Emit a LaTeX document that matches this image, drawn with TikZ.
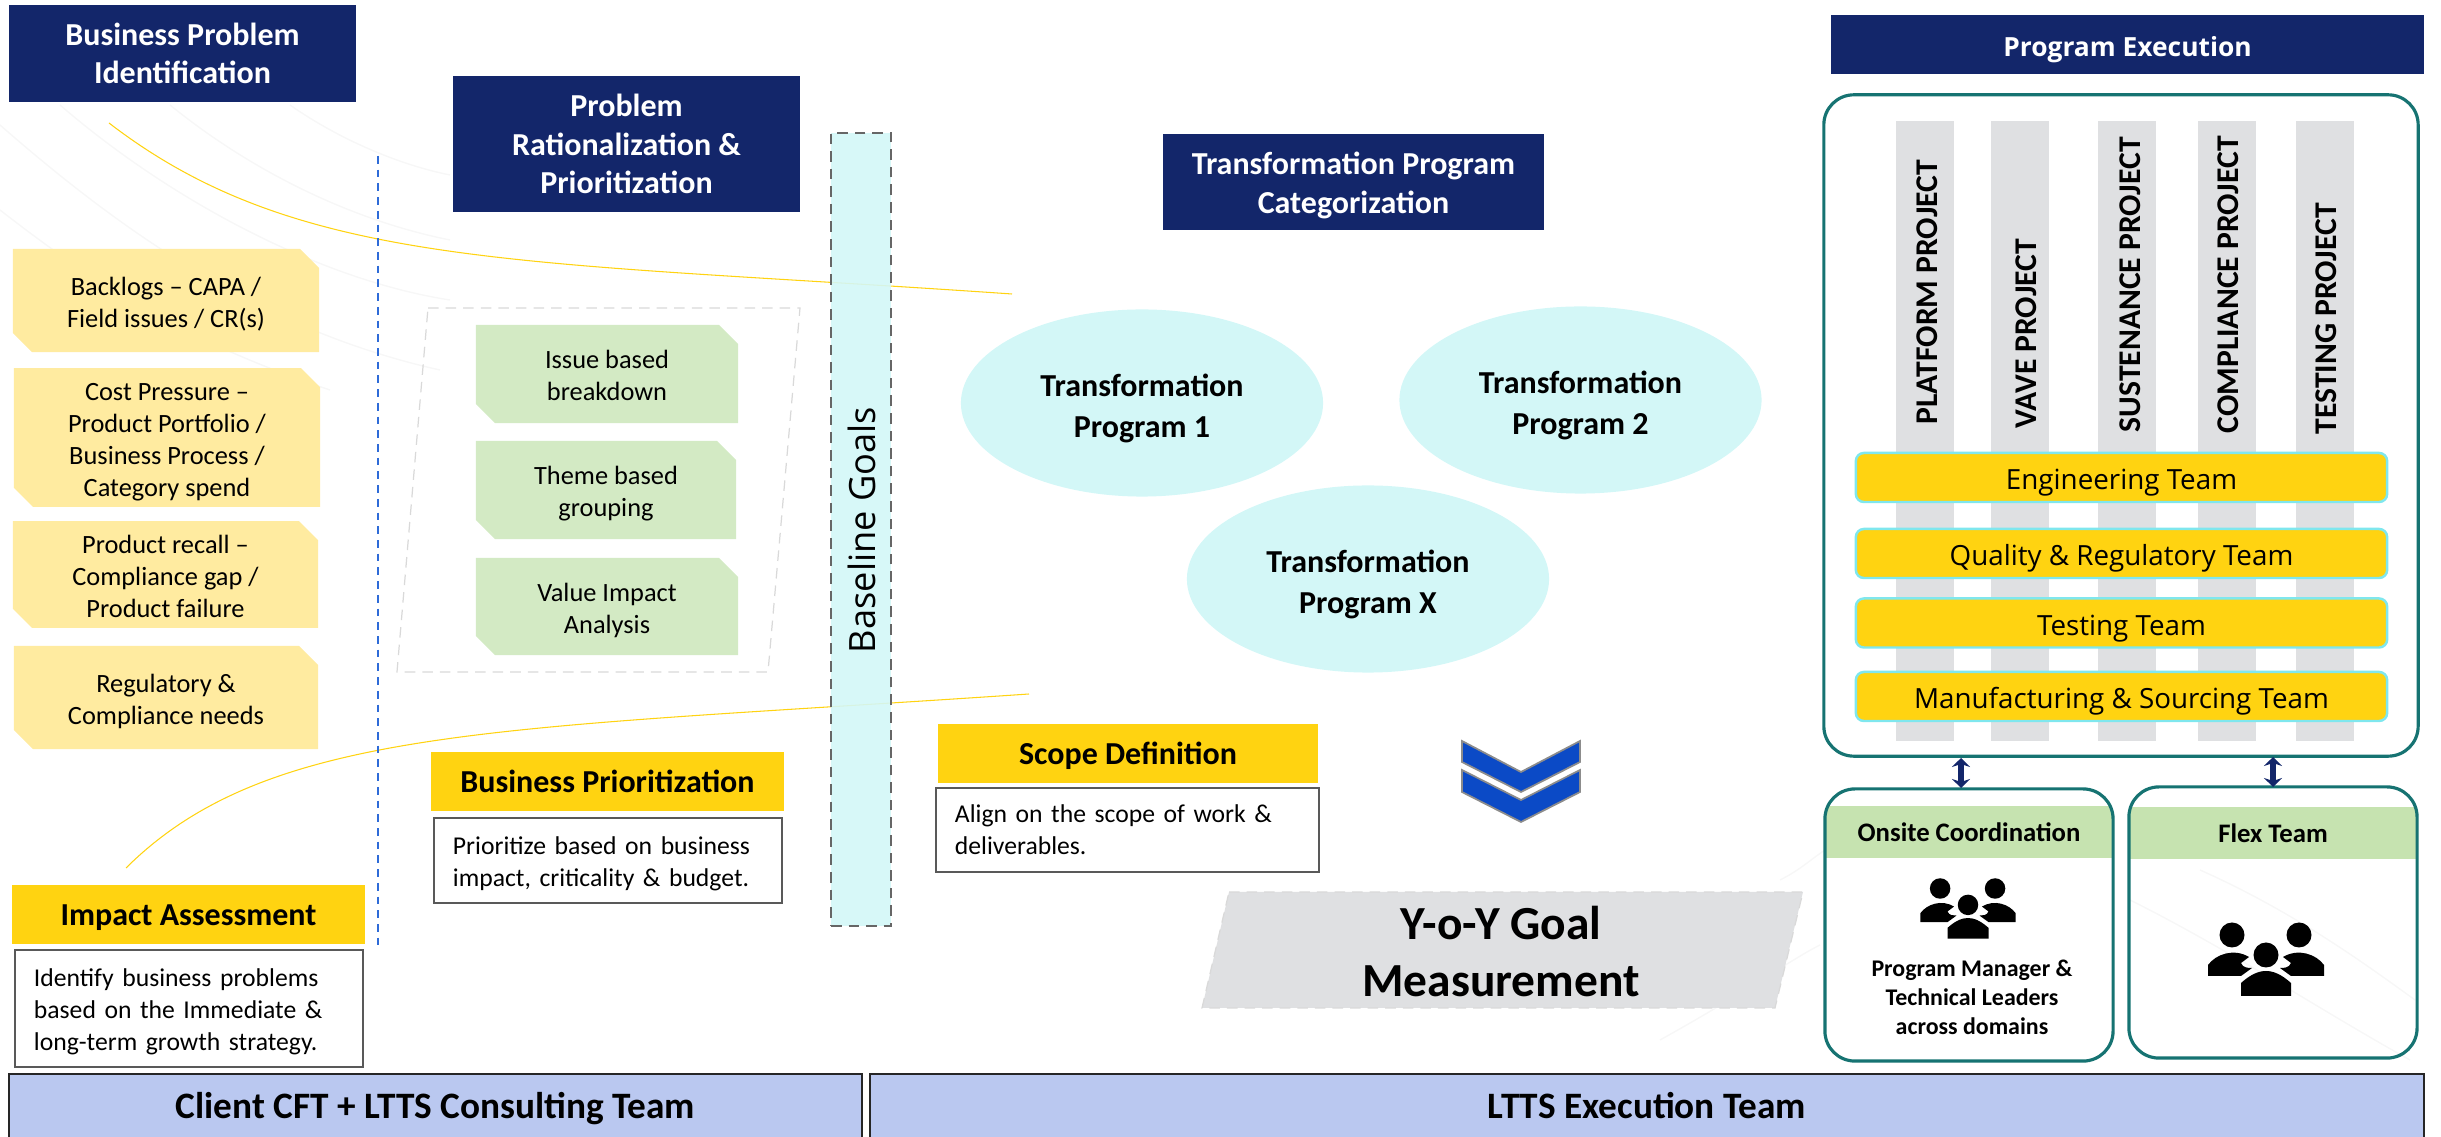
\documentclass[tikz,border=0pt]{standalone}
\usepackage{fontspec}
\setmainfont{Carlito}
\newfontfamily\opensans{Open Sans}
\usetikzlibrary{shapes.geometric,shapes.misc,arrows.meta}

\definecolor{navyhead}{HTML}{13266A}
\definecolor{goldhead}{HTML}{FFD311}
\definecolor{notefill}{HTML}{FFEBA0}
\definecolor{greenfill}{HTML}{D3EAC4}
\definecolor{headgreen}{HTML}{C6E3B0}
\definecolor{aquafill}{HTML}{D3F7F7}
\definecolor{greyfill}{HTML}{DFE0E2}
\definecolor{tealline}{HTML}{167372}
\definecolor{barfill}{HTML}{BAC8F0}
\definecolor{chevfill}{HTML}{0B4AC6}
\definecolor{sepblue}{HTML}{2E6BD8}
\definecolor{barline}{HTML}{7FE7EE}

\tikzset{
	navytitle/.style={rectangle, fill=navyhead, text=white, align=center, inner sep=0, font=\fontsize{9.1}{10.9}\selectfont\bfseries},
	goldlabel/.style={rectangle, fill=goldhead, text=black, inner sep=0, text height=0.75em, text depth=0.15em, font=\fontsize{9.1}{10}\selectfont\bfseries},
	descbox/.style={rectangle, draw=black!65, line width=0.4pt, align=left, font=\fontsize{7.3}{9.1}\selectfont},
	snipnote/.style={chamfered rectangle, chamfered rectangle corners={north east,south west}, chamfered rectangle xsep=0.09cm, chamfered rectangle ysep=0.1cm, inner sep=0, align=center, font=\fontsize{7.5}{9.1}\selectfont},
	yellownote/.style={snipnote, fill=notefill},
	greennote/.style={snipnote, fill=greenfill},
	programblob/.style={ellipse, fill=aquafill, inner sep=0, minimum width=3.62cm, minimum height=1.87cm, align=center, font=\fontsize{9.1}{11.6}\selectfont\bfseries},
	projcol/.style={rectangle, fill=greyfill, inner sep=0, minimum width=0.58cm, minimum height=6.2cm},
	projlabel/.style={rotate=90, anchor=west, inner sep=0, font=\fontsize{9}{10}\selectfont\bfseries},
	teambar/.style={rectangle, rounded corners=0.08cm, draw=barline, line width=0.7pt, fill=goldhead, inner sep=0, minimum width=5.31cm, minimum height=0.49cm, text height=0.82em, text depth=0.12em, font=\opensans\fontsize{7.9}{9}\selectfont},
	tealbox/.style={rectangle, rounded corners=0.3cm, draw=tealline, line width=0.9pt, inner sep=0},
	greenhead/.style={rectangle, fill=headgreen, inner sep=0, font=\fontsize{7.6}{8}\selectfont\bfseries},
	teambase/.style={rectangle, draw=black!85, line width=0.6pt, fill=barfill, inner sep=0, text height=0.8em, text depth=0.11em, font=\fontsize{10.6}{12}\selectfont\bfseries},
	flowcurve/.style={draw=goldhead, line width=0.3pt},
	bgwave/.style={draw=black!3, line width=0.4pt},
	syncarrow/.style={{Stealth[length=0.09cm,width=0.18cm]}-{Stealth[length=0.09cm,width=0.18cm]}, draw=navyhead, line width=1.7pt},
	people/.pic={
		% back row
		\fill (-34,-25) circle [radius=12.5];
		\fill (33,-25) circle [radius=12.5];
		\fill (-58,16) -- (-58,5) .. controls (-50,-6) and (-32,-12) .. (-17,-3) -- (-25,3) .. controls (-23,8) and (-18,8) .. (-14,8) -- (-25,16) -- cycle;
		\fill (58,16) -- (58,5) .. controls (50,-6) and (32,-12) .. (17,-3) -- (25,3) .. controls (23,8) and (18,8) .. (14,8) -- (25,16) -- cycle;
		% front
		\fill (0,-5) circle [radius=12.5];
		\fill (-25,36) -- (-25,23) .. controls (-15,14) and (-7,11) .. (0,11) .. controls (7,11) and (15,14) .. (25,23) -- (25,36) -- cycle;
	},
}

\begin{document}
\begin{tikzpicture}[x=0.01cm, y=-0.01cm]
	\useasboundingbox (0,0) rectangle (2441,1137);

	% faint waves behind everything
	\draw[bgwave] (0,125) .. controls (120,230) and (260,330) .. (440,370);
	\draw[bgwave] (60,105) .. controls (170,200) and (320,280) .. (450,300);
	\draw[bgwave] (170,105) .. controls (250,170) and (350,220) .. (450,240);
	\draw[bgwave] (0,210) .. controls (90,280) and (180,340) .. (330,390);
	\draw[bgwave] (290,105) .. controls (340,140) and (400,165) .. (450,175);
	\draw[bgwave] (1660,1040) .. controls (1750,990) and (1790,960) .. (1820,945);
	\draw[bgwave] (1780,880) .. controls (1800,870) and (1810,860) .. (1825,850);
	\draw[bgwave] (2130,900) .. controls (2230,950) and (2320,1010) .. (2410,1060);
	\draw[bgwave] (2200,870) .. controls (2290,910) and (2360,960) .. (2415,1000);

	% yellow flow curves
	\coordinate (curveAs) at (109,123);
	\coordinate (curveAe) at (1012,294);
	\coordinate (curveBs) at (126,868);
	\coordinate (curveBe) at (1029,694);
	\draw[flowcurve] (curveAs) .. controls (300,270) and (520,260) .. (curveAe);
	\draw[flowcurve] (curveBs) .. controls (270,725) and (500,730) .. (curveBe);

	% separator
	\coordinate (sepT) at (378,156);
	\coordinate (sepB) at (378,948);
	\draw[dash pattern=on 2.2pt off 1.7pt, draw=sepblue, line width=0.6pt] (sepT) -- (sepB);

	% identification
	\node[navytitle, minimum width=3.47cm, minimum height=0.97cm] (bpi) at (182.5,53.5) {Business Problem\\Identification};
	\node[yellownote, minimum width=3.06cm, minimum height=1.03cm] (noteA) at (166,300.5) {\rule{0pt}{7.3pt}Backlogs -- CAPA /\\Field issues / CR(s)};
	\node[yellownote, minimum width=3.06cm, minimum height=1.33cm] (noteB) at (167,437.5) {\rule{0pt}{6.4pt}Cost Pressure --\\Product Portfolio /\\Business Process /\\\smash{Category spend}};
	\node[yellownote, minimum width=3.05cm, minimum height=1.03cm] (noteC) at (165.5,574.5) {\rule{0pt}{6.4pt}Product recall --\\Compliance gap /\\Product failure};
	\node[yellownote, minimum width=3.04cm, minimum height=1.03cm] (noteD) at (166,697.5) {\rule{0pt}{7.3pt}Regulatory \&\\Compliance needs};
	\node[goldlabel, minimum width=3.53cm, minimum height=0.59cm] (impact) at (188.5,914.5) {Impact Assessment};
	\node[descbox, minimum width=3.48cm, minimum height=1.17cm, text width=3.1cm] (impactTxt) at (189,1008.5) {\rule{0pt}{7pt}Identify business problems\\based on the Immediate \&\\long-term growth strategy.};

	% rationalization
	\node[navytitle, minimum width=3.47cm, minimum height=1.36cm] (prp) at (626.5,144) {Problem\\Rationalization \&\\Prioritization};
	\draw[densely dashed, draw=black!15, line width=0.35pt] (428,308) -- (800,308) -- (768,672) -- (397,672) -- cycle;
	\node[greennote, minimum width=2.62cm, minimum height=0.98cm] (groupA) at (607,374) {\rule{0pt}{6.2pt}Issue based\\breakdown};
	\node[greennote, minimum width=2.60cm, minimum height=0.98cm] (groupB) at (606,490) {\rule{0pt}{7.3pt}Theme based\\grouping};
	\node[greennote, minimum width=2.62cm, minimum height=0.97cm] (groupC) at (607,606.5) {\rule{0pt}{7.3pt}Value Impact\\Analysis};
	\node[goldlabel, minimum width=3.53cm, minimum height=0.59cm] (prio) at (607.5,781.5) {Business Prioritization};
	\node[descbox, minimum width=3.48cm, minimum height=0.85cm, text width=3.1cm] (prioTxt) at (608,860.5) {\rule{0pt}{7pt}Prioritize based on business\\impact, criticality \& budget.};

	% baseline
	\node[rectangle, densely dashed, draw=black!60, line width=0.5pt, fill=aquafill, fill opacity=0.9, text opacity=1, inner sep=0, minimum width=0.6cm, minimum height=7.93cm] (baseline) at (861,529.5) {};
	\node[rotate=90, inner sep=0, font=\opensans\fontsize{10.3}{12}\selectfont] (baseTxt) at (862,530) {Baseline Goals};

	% categorization
	\node[navytitle, minimum width=3.81cm, minimum height=0.96cm] (tpc) at (1353.5,182) {\rule{0pt}{8.4pt}Transformation Program\\Categorization};
	\node[programblob] (progA) at (1142,403) {\rule{0pt}{9.3pt}Transformation\\Program 1};
	\node[programblob] (progB) at (1580.5,400) {\rule{0pt}{9.3pt}Transformation\\Program 2};
	\node[programblob] (progX) at (1368,579) {\rule{0pt}{9.3pt}Transformation\\Program X};
	\node[goldlabel, minimum width=3.80cm, minimum height=0.59cm] (scope) at (1128,753.5) {Scope Definition};
	\node[descbox, minimum width=3.83cm, minimum height=0.84cm, text width=3.45cm] (scopeTxt) at (1127.5,830) {Align on the scope of work \&\\deliverables.};

	% chevrons
	\draw[draw=black!45, fill=chevfill, line width=0.5pt] (1462,741) -- (1521,772) -- (1580,741) -- (1580,762) -- (1521,792) -- (1462,762) -- cycle;
	\draw[draw=black!45, fill=chevfill, line width=0.5pt] (1462,770) -- (1521,800) -- (1580,770) -- (1580,792) -- (1521,822) -- (1462,792) -- cycle;

	% goal measurement
	\draw[densely dashed, draw=black!15, fill=greyfill, line width=0.35pt] (1229,892) -- (1803,892) -- (1775,1008) -- (1202,1008) -- cycle;
	\node[align=center, inner sep=0, font=\fontsize{13.5}{16.2}\selectfont\bfseries] (yoy) at (1501,952) {Y-o-Y Goal\\Measurement};

	% execution
	\node[rectangle, fill=navyhead, text=white, inner sep=0, text height=0.82em, text depth=0.12em, font=\opensans\fontsize{7.5}{9}\selectfont\bfseries, minimum width=5.93cm, minimum height=0.59cm] (exec) at (2127.5,44.5) {Program Execution};
	\node[tealbox, minimum width=5.94cm, minimum height=6.61cm] (execBox) at (2121,425.5) {};

	% project columns
	\node[projcol] (colA) at (1925,431) {};
	\node[projcol] (colB) at (2020,431) {};
	\node[projcol] (colC) at (2127,431) {};
	\node[projcol] (colD) at (2227,431) {};
	\node[projcol] (colE) at (2325,431) {};
	\node[projlabel] (labA) at (1927,425) {PLATFORM PROJECT};
	\node[projlabel] (labB) at (2026,429) {VAVE PROJECT};
	\node[projlabel] (labC) at (2130,433) {SUSTENANCE PROJECT};
	\node[projlabel] (labD) at (2228,434) {COMPLIANCE PROJECT};
	\node[projlabel] (labE) at (2326,435) {TESTING PROJECT};

	% teams
	\node[teambar] (teamA) at (2121.5,477.5) {Engineering Team};
	\node[teambar] (teamB) at (2121.5,553.5) {Quality \& Regulatory Team};
	\node[teambar] (teamC) at (2121.5,623) {Testing Team};
	\node[teambar] (teamD) at (2121.5,696.5) {Manufacturing \& Sourcing Team};

	% onsite
	\node[greenhead, minimum width=2.86cm, minimum height=0.52cm] (onsiteHead) at (1969,832) {Onsite Coordination};
	\node[tealbox, minimum width=2.88cm, minimum height=2.72cm] (onsite) at (1969,925) {};
	\pic[scale=0.82] at (1968,909) {people};
	\node[align=center, inner sep=0, font=\fontsize{6.8}{8.2}\selectfont\bfseries] (onsiteTxt) at (1972,997) {Program Manager \&\\Technical Leaders\\across domains};

	% flex
	\node[greenhead, minimum width=2.86cm, minimum height=0.52cm] (flexHead) at (2273,833) {Flex Team};
	\node[tealbox, minimum width=2.88cm, minimum height=2.71cm] (flex) at (2273,922.5) {};
	\pic at (2266,960) {people};

	% links to execution box
	\coordinate (linkAt) at (1961,758);
	\coordinate (linkAb) at (1961,788);
	\coordinate (linkBt) at (2273,757);
	\coordinate (linkBb) at (2273,787);
	\draw[syncarrow] (linkAt) -- (linkAb);
	\draw[syncarrow] (linkBt) -- (linkBb);

	% team bars
	\node[teambase, minimum width=8.53cm, minimum height=0.65cm] (client) at (435.5,1106.5) {Client CFT + LTTS Consulting Team};
	\node[teambase, minimum width=15.53cm, minimum height=0.65cm] (ltts) at (1647,1106.5) {LTTS Execution Team};
\end{tikzpicture}
\end{document}
